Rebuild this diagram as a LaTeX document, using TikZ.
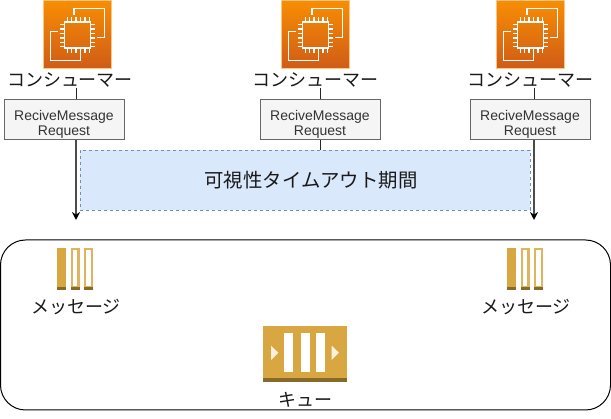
\documentclass[tikz,border=0pt]{standalone}
\usepackage{fontspec}
\setmainfont{Liberation Sans}
\newfontfamily\jpfont{Noto Sans CJK JP}
\usetikzlibrary{positioning, arrows.meta}
\definecolor{ecTop}{HTML}{F78E04}
\definecolor{ecBottom}{HTML}{D05C17}
\definecolor{sqsGold}{HTML}{D9A741}
\definecolor{sqsDark}{HTML}{876929}
\definecolor{sqsPale}{HTML}{FAF1DE}
\definecolor{windowFill}{HTML}{DAE8FC}
\definecolor{windowLine}{HTML}{6C8EBF}
\newcommand{\reqtext}{\rule{0pt}{18.5pt}ReciveMessage\\Request}
\tikzset{vm/.style={minimum size=68pt, inner sep=0pt, top color=ecTop, bottom color=ecBottom, draw=ecTop!50!white, line width=0.5pt},
         caption/.style={font=\jpfont\fontsize{18}{18}\selectfont, inner sep=0pt, text=black!90},
         request/.style={draw=black!60, fill=black!4, line width=1pt, text=black!80, minimum width=120pt, minimum height=40pt, inner sep=0pt, align=center, font=\fontsize{14}{15.5}\selectfont},
         timeout/.style={draw=windowLine, dashed, fill=windowFill, minimum width=450pt, minimum height=60pt, inner sep=0pt},
         link/.style={line width=1pt, black!85},
         longlink/.style={line width=1.4pt, black!70, -{Stealth[length=8pt,width=8pt,black]}},
         chipline/.style={white, line width=1.5pt},
         msg/.style={minimum width=38pt, minimum height=42pt, inner sep=0pt},
         que/.style={fill=sqsGold, minimum width=84pt, minimum height=56pt, inner sep=0pt},
         chip/.pic={
            \draw[chipline] (-3,-19)--(-3,-25.7)--(27.3,-25.7)--(27.3,3.3)--(19.7,3.3);
            \draw[chipline] (-18.7,-2.3)--(-26.3,-2.3)--(-26.3,26.7)--(3.3,26.7)--(3.3,19.3);
            \draw[white, line width=1.5pt] (-12.7,-12)rectangle(13.7,14);
            \draw[white, line width=4.5pt, dash pattern=on 1.5pt off 2.9pt] (-10.5,-15)--(12.5,-15) (-10.5,16.5)--(12.5,16.5) (-15,-10)--(-15,13) (16,-10)--(16,13);
         },
         bars/.pic={
            \fill[sqsGold] (-18.5,-21)rectangle(-9,21);
            \fill[sqsDark] (-18.5,18)rectangle(-9,21);
            \draw[sqsGold!85!white, line width=2.4pt] (-3.3,-19.8)rectangle(3.3,18);
            \fill[sqsDark] (-4.5,18)rectangle(4.5,21);
            \draw[sqsGold!85!white, line width=2.4pt] (9.9,-19.8)rectangle(17.1,18);
            \fill[sqsDark] (8.7,18)rectangle(18.3,21);
         },
}

\begin{document}
\begin{tikzpicture}[x=1pt,y=-1pt]
        \useasboundingbox (0,0) rectangle (611,419);

        \node[vm](vm1)at(77,34){};
        \node[vm](vm2)at(315,34){};
        \node[vm](vm3)at(530,34){};
        \pic at (vm1) {chip};
        \pic at (vm2) {chip};
        \pic at (vm3) {chip};

        \node[caption](consumer1)at(70,80){コンシューマー};
        \node[caption](consumer2)at(315,80){コンシューマー};
        \node[caption](consumer3)at(530,80){コンシューマー};

        \node[request](req1)at(64,120){\reqtext};
        \node[request](req2)at(320,120){\reqtext};
        \node[request](req3)at(530,120){\reqtext};

        \node[timeout](window)at(305,180){};
        \node[caption, font=\jpfont\fontsize{19.4}{19.4}\selectfont](windowtext)at(311,180){可視性タイムアウト期間};

        \node[draw, rounded corners=25pt, line width=1pt, minimum width=610pt, minimum height=170pt, inner sep=0pt](queuebox)at(305.5,325){};

        \coordinate (tip1) at (76,220);
        \coordinate (tip3) at (534,220);

        \draw[link](consumer1.south -| tip1)--(req1.north -| tip1);
        \draw[longlink](req1.south -| tip1)--(tip1);
        \draw[link](consumer2.south -| req2.north)--(req2.north);
        \draw[link](req2.south)--(window.north -| req2.south);
        \draw[link](consumer3.south -| tip3)--(req3.north -| tip3);
        \draw[longlink](req3.south -| tip3)--(tip3);

        \node[msg](msg1)at(75,269){};
        \node[msg](msg2)at(525,269){};
        \pic at (msg1) {bars};
        \pic at (msg2) {bars};
        \node[caption](msgtext1)at(76,307){メッセージ};
        \node[caption](msgtext2)at(526,307){メッセージ};

        \node[que](queue)at(305,354){};
        \fill[sqsDark](queue.south west)rectangle([yshift=4pt]queue.south east);
        \fill[white](284.3,333.3)rectangle(293.3,372);
        \fill[white](301,333.3)rectangle(310,372);
        \fill[white](316,333.3)rectangle(325,372);
        \fill[sqsPale](271,345.7)--(278.3,352.7)--(271,360)--cycle;
        \fill[sqsPale](331.7,345.7)--(339,352.7)--(331.7,360)--cycle;
        \node[caption](queuetext)at(305,400){キュー};
    \end{tikzpicture}
\end{document}
